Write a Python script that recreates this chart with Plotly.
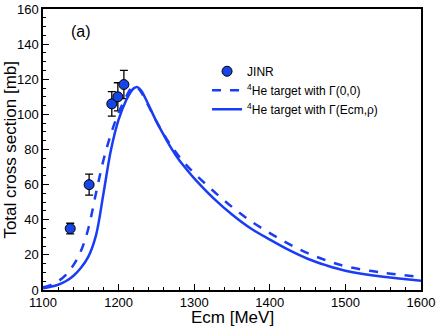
import plotly.graph_objects as go

# JINR data points
ecm_exp = [1136, 1161, 1191, 1199, 1207]
sig_exp = [35, 60, 106, 110, 117]
err_exp = [3, 6, 7, 8, 8]

# model curves
ecm = [1100, 1110, 1120, 1130, 1140, 1150, 1160, 1170, 1180, 1190, 1200, 1210, 1215,
       1220, 1225, 1230, 1240, 1250, 1260, 1270, 1280, 1290, 1300, 1325, 1350, 1375,
       1400, 1425, 1450, 1475, 1500, 1550, 1600]
sig_g00 = [1.5, 2.8, 5, 8.5, 14, 22, 35, 55, 74, 89, 101, 110, 114,
           116, 115.2, 112.5, 104.5, 96, 88.5, 81.8, 76, 71, 66.5, 56.5, 47.3, 39.2,
           32.4, 26.3, 21, 16.8, 13.5, 9.8, 7.4]
sig_gerho = [1, 1.8, 3, 5, 8, 12.5, 19, 31, 55, 80, 97, 108, 112,
             114.8, 115.5, 113.5, 105, 96, 88, 80.5, 74, 68.6, 63.6, 52.5, 43, 35,
             28.7, 22.8, 17.8, 14, 11, 7.5, 5.3]

# tick values
x_ticks = [1100, 1200, 1300, 1400, 1500, 1600]
y_ticks = [0, 20, 40, 60, 80, 100, 120, 140, 160]

blue = "#1a3cf5"

fig = go.Figure()
fig.add_trace(go.Scatter(
    x=ecm_exp, y=sig_exp, mode="markers", name="JINR<sup> </sup>",
    marker=dict(color="#1745e6", size=10, line=dict(color="black", width=1)),
    error_y=dict(type="data", array=err_exp, color="black", thickness=1.3, width=4)))
fig.add_trace(go.Scatter(
    x=ecm, y=sig_g00, mode="lines", name="<sup>4</sup>He target with \u0393(0,0)",
    line=dict(color=blue, width=2.5, dash="dash", shape="spline")))
fig.add_trace(go.Scatter(
    x=ecm, y=sig_gerho, mode="lines", name="<sup>4</sup>He target with \u0393(Ecm,\u03c1)",
    line=dict(color=blue, width=2.5, shape="spline")))

fig.add_annotation(x=1150, y=147, text="(a)", showarrow=False,
                   font=dict(size=16, color="black"))
# axis titles placed as annotations
fig.add_annotation(xref="paper", yref="paper", x=0.5, y=-0.099, text="Ecm [MeV]",
                   showarrow=False, xanchor="center", yanchor="middle",
                   font=dict(size=17, color="black"))
fig.add_annotation(xref="paper", yref="paper", x=-0.087, y=0.50,
                   text="Total cross section [mb]", textangle=-90,
                   showarrow=False, xanchor="center", yanchor="middle",
                   font=dict(size=17, color="black"))

axis_common = dict(showline=True, linecolor="black", linewidth=1.5, mirror=True,
                   ticks="inside", ticklen=6, tickcolor="black", showgrid=False,
                   zeroline=False, automargin=False, tickmode="array",
                   tickfont=dict(size=13, color="black"))

fig.update_xaxes(range=[1100, 1600], tickvals=x_ticks,
                 minor=dict(dtick=20, ticks="inside", ticklen=3, tickcolor="black"),
                 **axis_common)
fig.update_yaxes(range=[0, 160], tickvals=y_ticks,
                 minor=dict(dtick=5, ticks="inside", ticklen=3, tickcolor="black"),
                 **axis_common)

fig.update_layout(
    width=436, height=327,
    margin=dict(l=43, r=15, t=9, b=37),
    plot_bgcolor="white", paper_bgcolor="white",
    font=dict(family="Liberation Sans, Arial, sans-serif", color="black"),
    showlegend=True,
    legend=dict(x=0.434, y=0.83, xanchor="left", yanchor="top",
                bgcolor="rgba(0,0,0,0)", font=dict(size=12), tracegroupgap=0),
)

# page body has a default 8px margin; drop it so the figure sits at the window corner
fig.write_html("out.html", config={"displayModeBar": False},
               post_script="document.body.style.margin='0';")
